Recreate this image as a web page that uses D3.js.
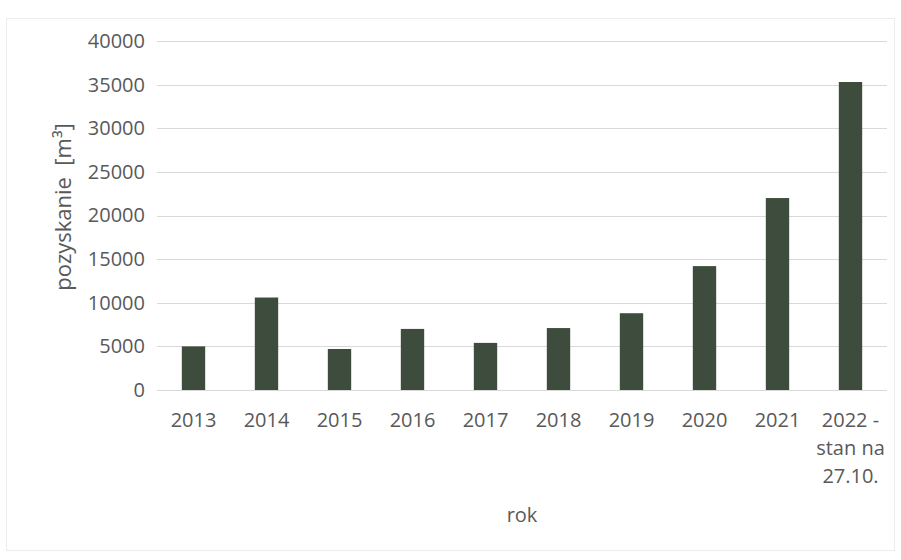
<!DOCTYPE html>
<meta charset="utf-8" />
<style>
  body { margin: 0; background: #fff; }
  text { font-family: "Open Sans", sans-serif; fill: #595959; }
</style>
<body>
  <div id="chart"></div>
  <script src="https://d3js.org/d3.v7.min.js"></script>
  <script>
    // data
    var years = ["2013", "2014", "2015", "2016", "2017", "2018", "2019", "2020", "2021", "2022"];
    var yearLabels = [["2013"], ["2014"], ["2015"], ["2016"], ["2017"], ["2018"], ["2019"], ["2020"], ["2021"], ["2022 -", "stan na", "27.10."]];
    var harvest = [5000, 10600, 4700, 7000, 5400, 7100, 8800, 14200, 22000, 35300];
    var yTicks = [0, 5000, 10000, 15000, 20000, 25000, 30000, 35000, 40000];

    var W = 901, H = 560;
    var margin = { top: 41, right: 14, bottom: 170, left: 157 };
    var width = W - margin.left - margin.right,
      height = H - margin.top - margin.bottom;

    var svg = d3.select("#chart").append("svg")
      .attr("width", W)
      .attr("height", H);

    // faint outline of the chart area
    svg.append("rect")
      .attr("x", 6.5).attr("y", 18.5)
      .attr("width", 888).attr("height", 532)
      .attr("fill", "none")
      .attr("stroke", "#ececec");

    var x = d3.scaleBand().domain(years).range([0, width]).paddingInner(0.68).paddingOuter(0.34);
    var y = d3.scaleLinear().domain([0, 40000]).range([height, 0]);

    var g = svg.append("g")
      .attr("transform", "translate(" + margin.left + "," + margin.top + ")");

    // gridlines
    g.selectAll(".grid")
      .data(yTicks)
      .enter().append("line")
      .attr("x1", 0).attr("x2", width)
      .attr("y1", function (d) { return Math.round(y(d)) + 0.5; })
      .attr("y2", function (d) { return Math.round(y(d)) + 0.5; })
      .attr("stroke", "#d9d9d9")
      .attr("stroke-width", 1);

    // bars
    g.selectAll(".bar")
      .data(harvest)
      .enter().append("rect")
      .attr("x", function (d, i) { return x(years[i]); })
      .attr("y", function (d) { return y(d); })
      .attr("width", x.bandwidth())
      .attr("height", function (d) { return height - y(d); })
      .attr("fill", "#3e4c3d");

    // y axis labels
    var yAxis = g.append("g").call(d3.axisLeft(y).tickValues(yTicks).tickFormat(d3.format("d")).tickSize(0).tickPadding(12));
    yAxis.select(".domain").remove();
    yAxis.selectAll("text").style("font-size", "20px").attr("fill", "#595959").style("font-family", "Open Sans");

    // x axis labels (multi-line)
    var xl = g.selectAll(".xl")
      .data(yearLabels)
      .enter().append("text")
      .attr("text-anchor", "middle")
      .attr("transform", function (d, i) {
        return "translate(" + (x(years[i]) + x.bandwidth() / 2) + "," + (height + 37) + ")";
      })
      .style("font-size", "20px");
    xl.selectAll("tspan")
      .data(function (d) { return d; })
      .enter().append("tspan")
      .attr("x", 0)
      .attr("dy", function (d, i) { return i === 0 ? 0 : 28; })
      .text(function (d) { return d; });

    // axis titles
    svg.append("text")
      .attr("x", margin.left + width / 2)
      .attr("y", 522)
      .attr("text-anchor", "middle")
      .style("font-size", "20px")
      .text("rok");

    svg.append("text")
      .attr("transform", "translate(71,207) rotate(-90)")
      .attr("text-anchor", "middle")
      .style("font-size", "22px")
      .style("white-space", "pre")
      .text("pozyskanie  [m³]");
  </script>
</body>
